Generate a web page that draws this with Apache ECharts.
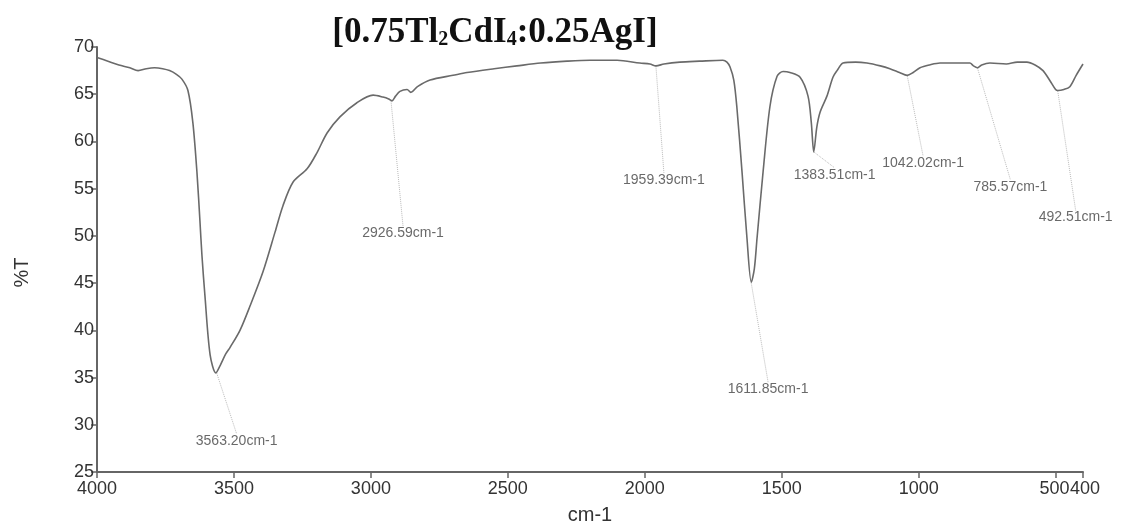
<!DOCTYPE html>
<html>
<head>
<meta charset="utf-8">
<script src="https://cdn.jsdelivr.net/npm/echarts@6/dist/echarts.min.js"></script>
<style>
html,body{margin:0;padding:0;background:#fff;}
#chart{width:1122px;height:530px;}
</style>
</head>
<body>
<div id="chart"></div>
<script>
// Wavenumber (cm-1) and transmittance (%T)
const wavenumbers = [4000,3960,3920,3880,3850,3820,3790,3760,3735,3710,3690,3668,3650,3635,3624,3617,3606,3587,3566,3550,3530,3514,3478,3441,3394,3350,3321,3284,3233,3197,3160,3113,3051,2992,2956,2935,2923,2910,2894,2868,2854,2830,2784,2700,2649,2550,2467,2380,2284,2200,2101,2018,1981,1959,1930,1872,1800,1715,1700,1689,1675,1664,1645,1627,1611,1600,1590,1568,1543,1517,1495,1470,1433,1404,1392,1383,1372,1360,1335,1313,1298,1276,1230,1189,1140,1105,1070,1042,1020,995,960,922,870,813,800,786,770,740,680,640,605,575,546,520,500,492,470,448,425,400];
const transmittance = [68.9,68.5,68.1,67.8,67.5,67.7,67.8,67.7,67.5,67.1,66.6,65.4,62.0,56.7,51.5,48.0,43.7,37.4,35.5,36.3,37.5,38.2,40.0,42.6,46.2,50.4,53.2,55.7,57.1,58.8,60.9,62.6,64.1,64.9,64.7,64.5,64.3,64.8,65.3,65.5,65.2,65.8,66.5,67.0,67.3,67.7,68.0,68.3,68.5,68.6,68.6,68.3,68.2,68.0,68.2,68.4,68.5,68.6,68.4,67.9,66.5,63.7,56.8,49.8,45.1,46.5,49.8,56.8,63.7,66.9,67.4,67.3,66.8,64.8,62.0,58.9,61.5,63.1,64.8,66.8,67.5,68.3,68.4,68.3,68.0,67.7,67.3,67.0,67.3,67.8,68.1,68.3,68.3,68.3,68.0,67.8,68.1,68.3,68.2,68.4,68.4,68.1,67.5,66.4,65.5,65.4,65.5,65.8,67.0,68.2];

// Labelled peaks
const peakWavenumbers = [3563.20,2926.59,1959.39,1611.85,1383.51,1042.02,785.57,492.51];
const peakTransmittance = [35.5,64.3,68.0,45.1,58.9,67.0,67.8,65.4];

// Axis ticks
const xTicks = [4000,3500,3000,2500,2000,1500,1000,500,400];
const yMin = 25, yMax = 70, yStep = 5;

// label offsets (pixels) from each peak to its label centre
const labelOffsets = [[20,68],[12,132],[8,114],[17,107],[21,23],[16,88],[33,119],[18,127]];

const spectrum = wavenumbers.map((w,i)=>[w, transmittance[i]]);
const peaks = peakWavenumbers.map((w,i)=>[w, peakTransmittance[i]]);

const chart = echarts.init(document.getElementById('chart'), null, {renderer:'canvas'});
chart.setOption({
  animation:false,
  backgroundColor:'#ffffff',
  title:{
    text:'{a|[0.75Tl}{s|2}{a|CdI}{s|4}{a|:0.25AgI]}',
    left:490, top:7, textAlign:'center',
    textStyle:{
      rich:{
        a:{fontFamily:'Liberation Serif', fontWeight:'bold', fontSize:35, color:'#111', verticalAlign:'bottom', lineHeight:38},
        s:{fontFamily:'Liberation Serif', fontWeight:'bold', fontSize:20, color:'#111', verticalAlign:'bottom', lineHeight:31}
      }
    }
  },
  grid:{left:97, right:39, top:47, bottom:53},
  xAxis:{
    type:'value', inverse:true, min:400, max:4000,
    name:'cm-1', nameLocation:'middle', nameGap:33,
    nameTextStyle:{fontFamily:'Liberation Sans', fontSize:20, color:'#333'},
    axisLine:{show:true, onZero:false, lineStyle:{color:'#666', width:2}},
    axisTick:{show:true, length:6, customValues:xTicks, lineStyle:{color:'#666', width:1.5}},
    axisLabel:{
      customValues:xTicks, margin:8, fontFamily:'Liberation Sans', fontSize:18, color:'#333',
      formatter:function(v){ if(v===500) return '{l|500}'; if(v===400) return '{r|400}'; return String(v); },
      rich:{
        l:{fontFamily:'Liberation Sans', fontSize:18, color:'#333', padding:[0,2,0,0]},
        r:{fontFamily:'Liberation Sans', fontSize:18, color:'#333', padding:[0,0,0,4]}
      }
    },
    splitLine:{show:false}
  },
  yAxis:{
    type:'value', min:yMin, max:yMax, interval:yStep,
    name:'%T', nameLocation:'middle', nameGap:65, nameRotate:90,
    nameTextStyle:{fontFamily:'Liberation Sans', fontSize:20, color:'#333', padding:[0,26,0,0]},
    axisLine:{show:true, lineStyle:{color:'#666', width:2}},
    axisTick:{show:true, length:6, lineStyle:{color:'#666', width:1.5}},
    axisLabel:{margin:3, fontFamily:'Liberation Sans', fontSize:18, color:'#333'},
    splitLine:{show:false}
  },
  series:[
    {
      type:'line', data:spectrum, showSymbol:false, smooth:0.3,
      lineStyle:{color:'#6a6a6a', width:1.6}
    },
    {
      type:'scatter', data:peaks, symbolSize:1,
      itemStyle:{color:'rgba(0,0,0,0)'},
      label:{
        show:true, position:'inside',
        formatter:function(p){ return p.value[0].toFixed(2)+'cm-1'; },
        fontFamily:'Liberation Sans', fontSize:14, color:'#444'
      },
      labelLayout:function(p){ const o = labelOffsets[p.dataIndex]; return {dx:o[0], dy:o[1]}; },
      labelLine:{show:true, lineStyle:{color:'#bbb', width:1, type:'dotted'}}
    }
  ]
});
</script>
</body>
</html>
